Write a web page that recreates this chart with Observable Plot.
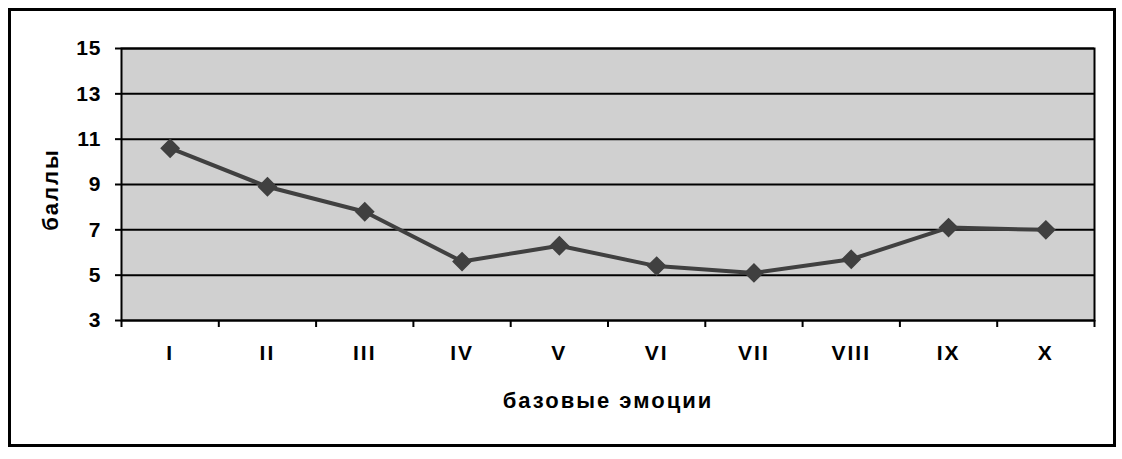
<!DOCTYPE html>
<html><head><meta charset="utf-8">
<script src="https://cdn.jsdelivr.net/npm/d3@7"></script>
<script src="https://cdn.jsdelivr.net/npm/@observablehq/plot@0.6"></script>
<style>
body{margin:0;background:#fff;}
#wrap{position:relative;width:1122px;height:459px;}
#border{position:absolute;left:8px;top:8px;width:1102px;height:433px;border:3px solid #000;pointer-events:none;}
</style></head><body>
<div id="wrap"><div id="chart"></div><div id="border"></div></div>
<script>
const categories = ["I","II","III","IV","V","VI","VII","VIII","IX","X"];
const values = [10.6, 8.9, 7.8, 5.6, 6.3, 5.4, 5.1, 5.7, 7.1, 7.0];
const yTicks = [3,5,7,9,11,13,15];
const xTitle = "базовые эмоции";
const yTitle = "баллы";

const data = categories.map((c,i)=>({i: i+0.5, c, v: values[i]}));
const labelPos = categories.map((c,i)=>i+0.5);
const boundaries = d3.range(0, categories.length+1);

const chart = Plot.plot({
  width:1122, height:459,
  marginLeft:121, marginRight:28, marginTop:48, marginBottom:139,
  x:{domain:[0,categories.length]},
  y:{domain:[3,15]},
  style:{fontFamily:"'Liberation Sans', Arial, sans-serif", fontWeight:"bold", fontSize:"21px", color:"#000", background:"transparent"},
  marks:[
    Plot.frame({fill:"#d0d0d0"}),
    Plot.ruleY(yTicks, {stroke:"#000", strokeWidth:2}),
    Plot.frame({stroke:"#000", strokeWidth:2}),
    Plot.axisY({ticks:yTicks, tickSize:6, tickPadding:14, tickFormat:d=>String(d), label:null, stroke:"#000", strokeWidth:2, strokeOpacity:1}),
    Plot.axisX({ticks:boundaries, tickSize:7, tickFormat:()=>"", label:null, stroke:"#000", strokeWidth:2, strokeOpacity:1}),
    Plot.axisX({ticks:labelPos, tickSize:0, tickPadding:25, tickFormat:d=>categories[Math.floor(d)], label:null}),
    Plot.line(data, {x:"i", y:"v", stroke:"#404040", strokeWidth:4}),
    Plot.dot(data, {x:"i", y:"v", symbol:"diamond2", r:8, fill:"#404040", stroke:"#404040"}),
    Plot.text([yTitle], {frameAnchor:"left", dx:-71, dy:5, rotate:-90, textAnchor:"middle", lineAnchor:"middle", fontSize:22, fontWeight:"bold"}),
    Plot.text([xTitle], {frameAnchor:"bottom", dy:80, textAnchor:"middle", lineAnchor:"middle", fontSize:22, fontWeight:"bold"})
  ]
});
d3.select(chart).selectAll("text").each(function(){
  const t = this.textContent;
  if (t === xTitle || t === yTitle) this.style.letterSpacing = "2px";
  else if (yTicks.map(String).includes(t)) this.style.letterSpacing = "1px";
  else if (categories.includes(t)) this.style.letterSpacing = "2px";
});
document.getElementById("chart").appendChild(chart);
</script>
</body></html>
